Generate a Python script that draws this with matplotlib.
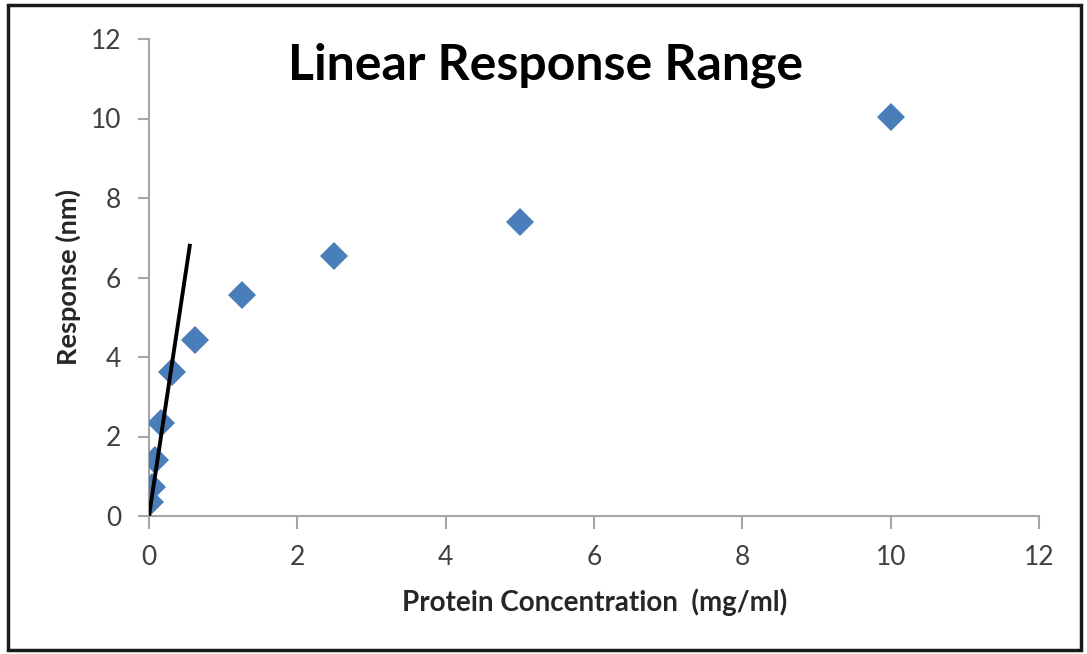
import numpy as np
import matplotlib.pyplot as plt
from matplotlib.patches import Rectangle

# Data (serial dilution series)
concentration = [0.0195, 0.039, 0.078, 0.156, 0.3125, 0.625, 1.25, 2.5, 5, 10]
response = [0.35, 0.73, 1.40, 2.33, 3.62, 4.43, 5.56, 6.53, 7.40, 10.05]

# Hand-drawn linear fit line
line_x = [0, 0.55]
line_y = [0, 6.8]

plt.rcParams['font.family'] = ['Lato', 'DejaVu Sans']

fig = plt.figure(figsize=(10.87, 6.54), dpi=100)
ax = fig.add_axes([149 / 1087, 1 - 516 / 654, 890 / 1087, 477 / 654])

ax.plot(concentration, response, linestyle='none', marker='D',
        markersize=14, color='#4a7ebb', markeredgewidth=0, zorder=3)
ax.plot(line_x, line_y, color='black', linewidth=2.8, zorder=4)

ax.set_xlim(0, 12)
ax.set_ylim(0, 12)
ax.set_xticks(np.arange(0, 13, 2))
ax.set_yticks(np.arange(0, 13, 2))

for side in ['top', 'right']:
    ax.spines[side].set_visible(False)
for side in ['left', 'bottom']:
    ax.spines[side].set_color('#a6a6a6')
    ax.spines[side].set_linewidth(1.5)
    ax.spines[side].set_clip_on(False)

ax.tick_params(axis='both', colors='#a6a6a6', labelcolor='#404040',
               labelsize=19, width=1.5)
ax.tick_params(axis='y', length=8, pad=12)
ax.tick_params(axis='x', length=9, pad=12)

ax.set_xlabel('Protein Concentration  (mg/ml)', fontsize=20, fontweight='bold',
              color='#262626', va='center')
ax.xaxis.set_label_coords(0.501, -0.180)
ax.set_ylabel('Response (nm)', fontsize=19.5, fontweight='bold',
              color='#262626', va='center')
ax.yaxis.set_label_coords(-0.091, 0.501)

fig.text(546 / 1087, 1 - 65 / 654, 'Linear Response Range', fontsize=36,
         fontweight='bold', color='black', ha='center', va='center')

# outer frame
fig.patches.append(Rectangle((8 / 1087, 4 / 654), 1073 / 1087, 645 / 654,
                             transform=fig.transFigure, fill=False,
                             edgecolor='#1a1a1a', linewidth=2.5))

fig.savefig('out.png', dpi=100)
